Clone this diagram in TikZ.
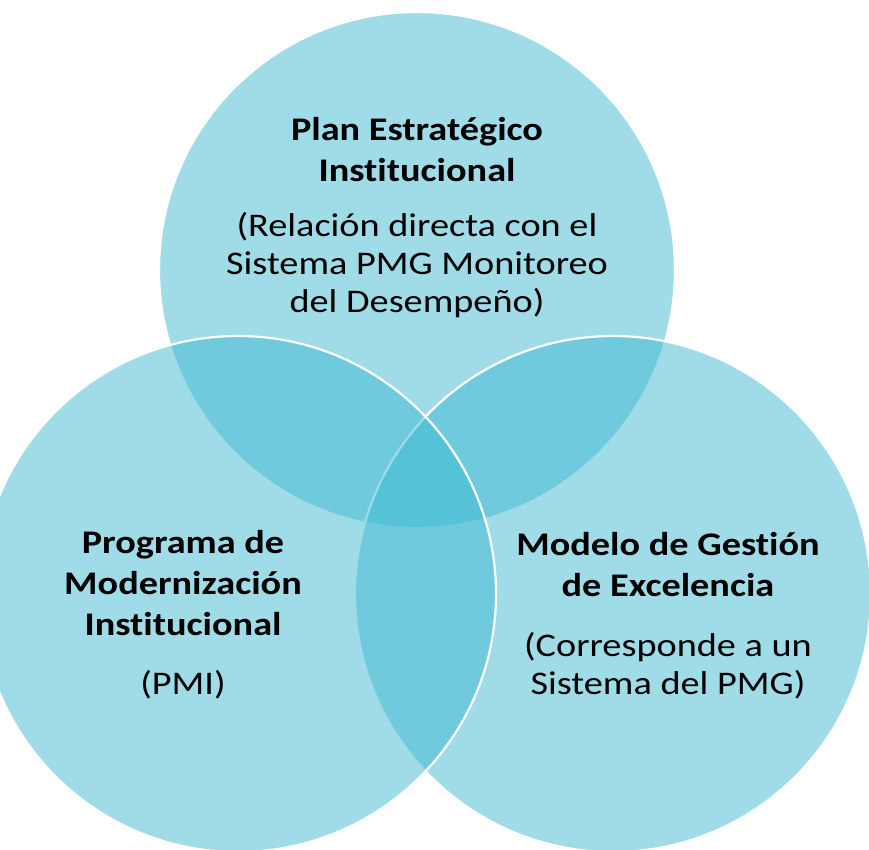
\documentclass[tikz,border=0pt]{standalone}
\usepackage{fontspec}
\setmainfont{Carlito}[FakeStretch=1.16, Ligatures=NoCommon]
\definecolor{vennblue}{RGB}{63,185,209}
\tikzset{
  venn/.style={fill=vennblue, fill opacity=0.5, draw=white, line width=2.2pt},
  title/.style={font=\fontsize{33}{41}\selectfont\bfseries, align=center, anchor=base, inner sep=0pt},
  note/.style={font=\fontsize{33}{38}\selectfont, align=center, anchor=base, inner sep=0pt}
}
\begin{document}
\begin{tikzpicture}[x=1pt, y=-1pt]
    \useasboundingbox (0,0) rectangle (869,850);
    \clip (0,0) rectangle (869,850);

    % the three circles
    \draw[venn] (417,270) circle[radius=258pt];
    \draw[venn] (613,594) circle[radius=258pt];
    \draw[venn] (238,594) circle[radius=258pt];

    % top
    \node[title] (peititle) at (417,182) {Plan Estratégico\\Institucional};
    \node[note] (peinote) at (417,312) {(Relación directa con el\\Sistema PMG Monitoreo\\del Desempeño)};

    % left
    \node[title] (pmititle) at (183,635) {Programa de\\Modernización\\Institucional};
    \node[note] (pminote) at (183,694) {(PMI)};

    % right
    \node[title] (mgetitle) at (668,596) {Modelo de Gestión\\de Excelencia};
    \node[note] (mgenote) at (668,694) {(Corresponde a un\\Sistema del PMG)};
\end{tikzpicture}
\end{document}
